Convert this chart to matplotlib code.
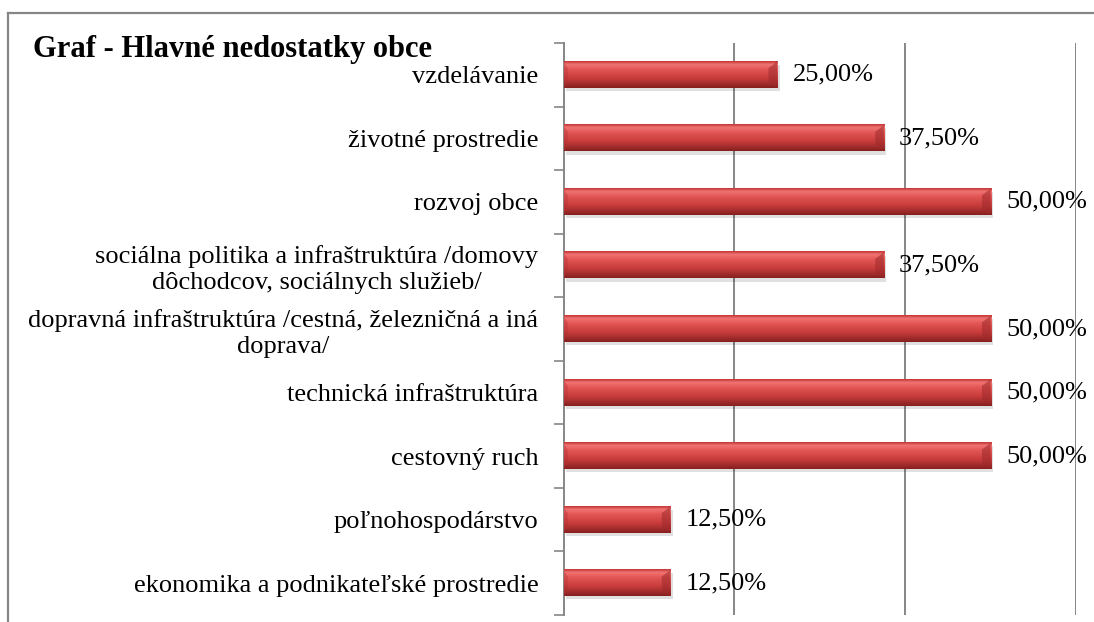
import numpy as np
import matplotlib.pyplot as plt
from matplotlib.colors import LinearSegmentedColormap
from matplotlib.lines import Line2D
from matplotlib.patches import Polygon, Rectangle

plt.rcParams['font.family'] = ['Liberation Serif', 'DejaVu Serif']

# data, top to bottom
kategorie = [
    'vzdelávanie',
    'životné prostredie',
    'rozvoj obce',
    'sociálna politika a infraštruktúra /domovy\ndôchodcov, sociálnych služieb/',
    'dopravná infraštruktúra /cestná, železničná a iná\ndoprava/',
    'technická infraštruktúra',
    'cestovný ruch',
    'poľnohospodárstvo',
    'ekonomika a podnikateľské prostredie',
]
hodnoty = [25.0, 37.5, 50.0, 37.5, 50.0, 50.0, 50.0, 12.5, 12.5]
nazov = 'Graf - Hlavné nedostatky obce'

fig = plt.figure(figsize=(10.94, 6.22), dpi=100)
ax = fig.add_axes([563.5 / 1094, 1 - 615 / 622, (1076 - 563.5) / 1094, (615 - 43) / 622])

y = np.arange(len(kategorie))
h = 0.41

# vertical gradient for the "cylinder" look (top -> bottom)
cmap = LinearSegmentedColormap.from_list('valec', [
    (0.0, '#c43636'), (0.12, '#f07474'), (0.3, '#e45656'),
    (0.65, '#c63b3b'), (1.0, '#872020')])
grad = np.linspace(0, 1, 64).reshape(-1, 1)

for yi, v in zip(y, hodnoty):
    top = yi - h / 2
    bot = yi + h / 2
    # soft shadow
    ax.add_patch(Rectangle((0.3, top + 0.05), v, h, color='#000000', alpha=0.12, lw=0, zorder=2))
    ax.barh(yi, v, height=h, color='#c83c3c', zorder=3)
    ax.imshow(grad, cmap=cmap, aspect='auto', extent=(0, v, bot, top), zorder=3.5,
              interpolation='bilinear')
    # bevel at the right end
    d = 1.0
    ax.add_patch(Polygon([(v - d, top + 0.1), (v, top), (v, bot), (v - d, bot - 0.1)],
                         closed=True, color='#9e2a2a', alpha=0.55, lw=0, zorder=4))
    ax.add_patch(Polygon([(v - d, top + 0.1), (v, top), (v - d * 0.2, top + 0.02)],
                         closed=True, color='#f5a0a0', alpha=0.6, lw=0, zorder=4))
    # bevel at the left end
    ax.add_patch(Polygon([(0, top), (0.5, top + 0.1), (0.5, bot - 0.1), (0, bot)],
                         closed=True, color='#b03030', alpha=0.35, lw=0, zorder=4))
    ax.text(v + 1.8, yi, '{:.2f}%'.format(v).replace('.', ','), va='center', ha='left',
            fontsize=19, color='black', zorder=5)

ax.set_xlim(0, 60)
ax.set_ylim(len(kategorie) - 0.5, -0.5)

# gridlines at 20, 40, 60
ax.set_xticks([20, 40, 60])
ax.set_xticklabels([])
ax.tick_params(axis='x', length=0)
ax.grid(axis='x', color='#868686', lw=1.4, zorder=1)

# category labels in the middle, tick marks between categories
ax.set_yticks(y)
ax.set_yticklabels(kategorie, fontsize=19)
ax.tick_params(axis='y', which='major', length=0, pad=18)
ax.set_yticks(np.arange(len(kategorie) + 1) - 0.5, minor=True)
ax.tick_params(axis='y', which='minor', length=7, width=1.2, color='#868686', direction='out')
for lab in ax.get_yticklabels():
    lab.set_multialignment('center')
    lab.set_linespacing(1.22)

for s in ['top', 'right', 'bottom']:
    ax.spines[s].set_visible(False)
ax.spines['left'].set_color('#868686')
ax.spines['left'].set_linewidth(1.4)

# outer chart frame (only left and top visible)
fig.add_artist(Line2D([7.5 / 1094, 7.5 / 1094], [0, 1 - 12.5 / 622], color='#868686', lw=1.6))
fig.add_artist(Line2D([7.5 / 1094, 1], [1 - 12.5 / 622, 1 - 12.5 / 622], color='#868686', lw=1.6))

fig.text(33 / 1094, 1 - 57 / 622, nazov, fontsize=22, fontweight='bold', ha='left', va='baseline')

fig.savefig('out.png', dpi=100)
